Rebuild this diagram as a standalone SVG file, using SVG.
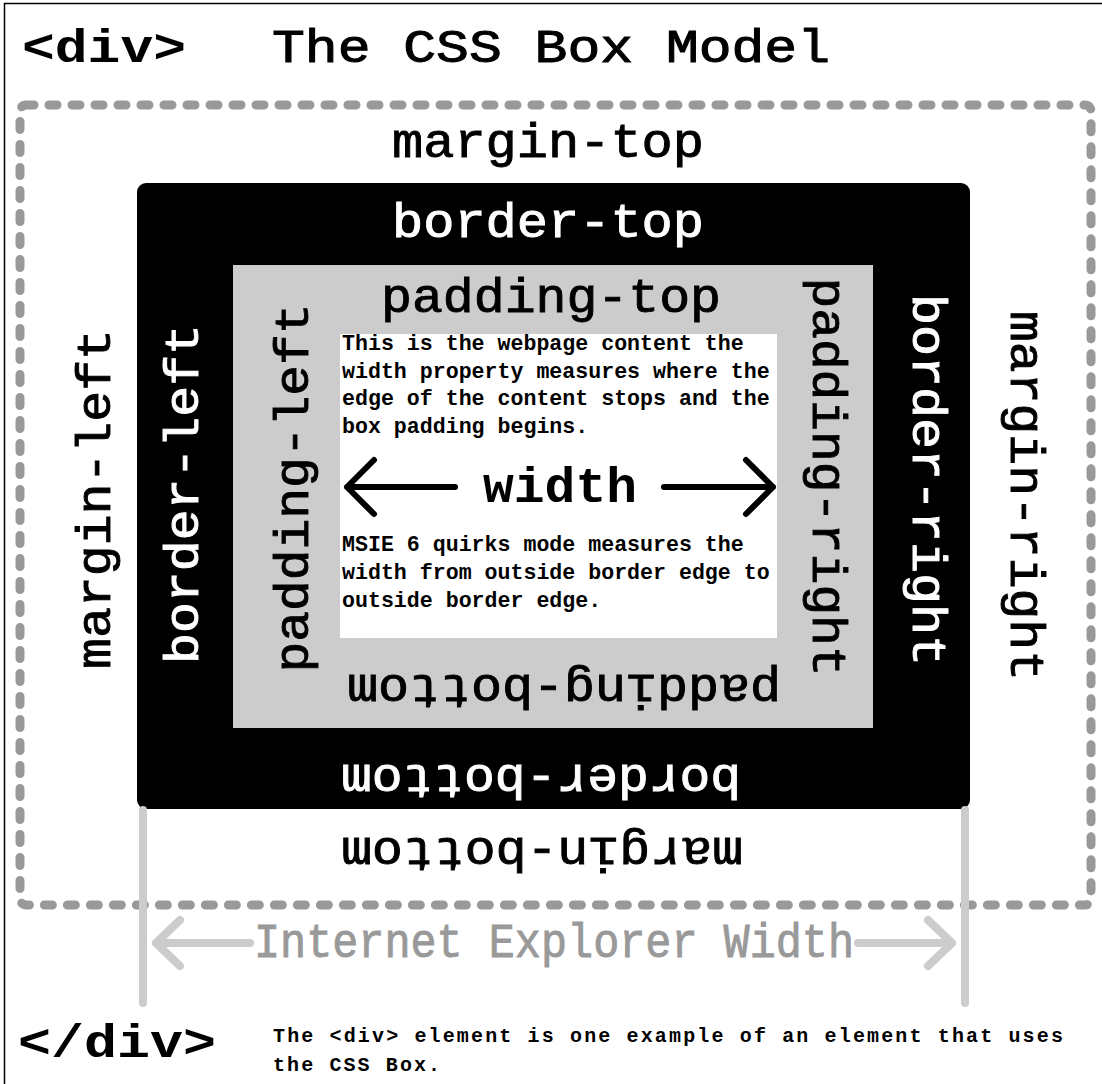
<svg xmlns="http://www.w3.org/2000/svg" width="1102" height="1084" viewBox="0 0 1102 1084">
<style>
text{font-family:"Liberation Mono","Courier New",monospace}
.lbl{font-size:48px;fill:#000;stroke:#000;stroke-width:0.9;text-anchor:middle}
.wht{fill:#fff;stroke:#fff}
.tag{font-size:46px;font-weight:bold;fill:#000}
.ttl{font-size:46px;fill:#000;stroke:#000;stroke-width:1}
.body{font-size:21.6px;font-weight:bold;fill:#000}
.cap{font-size:20px;font-weight:bold;fill:#000;letter-spacing:2.1px}
.ie{fill:#999;stroke:#999}
.lg{stroke:#ccc;stroke-width:8;stroke-linecap:round;stroke-linejoin:round;fill:none}
.bk{stroke:#000;stroke-width:6;stroke-linecap:round;stroke-linejoin:round;fill:none}
</style>
<rect x="0" y="0" width="1102" height="1084" fill="#fff"/>
<path d="M4.5 1084 V3.5 H1102" fill="none" stroke="#000" stroke-width="1.5"/>

<g id="title">
<text class="tag" x="22" y="62" textLength="164" lengthAdjust="spacingAndGlyphs">&lt;div&gt;</text>
<text class="ttl" x="272" y="62" textLength="558" lengthAdjust="spacingAndGlyphs">The CSS Box Model</text>
</g>

<g id="margin">
<rect x="20" y="105" width="1071" height="800" rx="6" fill="none" stroke="#999" stroke-width="9" stroke-dasharray="8 15" stroke-linecap="round"/>
<text class="lbl" x="548" y="157" textLength="312" lengthAdjust="spacingAndGlyphs">margin-top</text>
<text class="lbl" transform="translate(110,499) rotate(-90)" textLength="340" lengthAdjust="spacingAndGlyphs">margin-left</text>
<text class="lbl" transform="translate(1011,496) rotate(90)" textLength="370" lengthAdjust="spacingAndGlyphs">margin-right</text>
<text class="lbl" transform="translate(542,838) rotate(180)" textLength="402" lengthAdjust="spacingAndGlyphs">margin-bottom</text>
</g>

<g id="border">
<rect x="137" y="183" width="833" height="626" rx="9" fill="#000"/>
<text class="lbl wht" x="548" y="237" textLength="312" lengthAdjust="spacingAndGlyphs">border-top</text>
<text class="lbl wht" transform="translate(198,494) rotate(-90)" textLength="340" lengthAdjust="spacingAndGlyphs">border-left</text>
<text class="lbl wht" transform="translate(913,480) rotate(90)" textLength="372" lengthAdjust="spacingAndGlyphs">border-right</text>
<text class="lbl wht" transform="translate(541,765) rotate(180)" textLength="400" lengthAdjust="spacingAndGlyphs">border-bottom</text>
</g>

<g id="padding">
<rect x="233" y="265" width="640" height="463" fill="#ccc"/>
<text class="lbl" x="551" y="312" textLength="340" lengthAdjust="spacingAndGlyphs">padding-top</text>
<text class="lbl" transform="translate(308,488) rotate(-90)" textLength="369" lengthAdjust="spacingAndGlyphs">padding-left</text>
<text class="lbl" transform="translate(813,477) rotate(90)" textLength="399" lengthAdjust="spacingAndGlyphs">padding-right</text>
<text class="lbl" transform="translate(564,675) rotate(180)" textLength="434" lengthAdjust="spacingAndGlyphs">padding-bottom</text>
</g>

<g id="content">
<rect x="340" y="334" width="437" height="304" fill="#fff"/>
<text class="body" x="342" y="350">This is the webpage content the</text>
<text class="body" x="342" y="378">width property measures where the</text>
<text class="body" x="342" y="405">edge of the content stops and the</text>
<text class="body" x="342" y="433">box padding begins.</text>
<text x="560" y="502" font-size="50" font-weight="bold" text-anchor="middle" textLength="154" lengthAdjust="spacingAndGlyphs">width</text>
<text class="body" x="342" y="551">MSIE 6 quirks mode measures the</text>
<text class="body" x="342" y="579">width from outside border edge to</text>
<text class="body" x="342" y="607">outside border edge.</text>
</g>

<g id="connectors">
<path class="bk" d="M347 487 H455 M374 460 L347 487 L374 514"/>
<path class="bk" d="M664 487 H773 M746 460 L773 487 L746 514"/>
<path class="lg" d="M143 810 V1003 M965 810 V1003"/>
<path class="lg" d="M156 943 H250 M180 920 L156 943 L180 966"/>
<path class="lg" d="M858 943 H952 M928 920 L952 943 L928 966"/>
</g>

<g id="ie-label">
<text class="lbl ie" x="554" y="957" textLength="600" lengthAdjust="spacingAndGlyphs">Internet Explorer Width</text>
</g>

<g id="footer">
<text class="tag" x="18" y="1057" textLength="198" lengthAdjust="spacingAndGlyphs">&lt;/div&gt;</text>
<text class="cap" x="273" y="1042" textLength="792" lengthAdjust="spacing">The &lt;div&gt; element is one example of an element that uses</text>
<text class="cap" x="273" y="1071">the CSS Box.</text>
</g>
</svg>
